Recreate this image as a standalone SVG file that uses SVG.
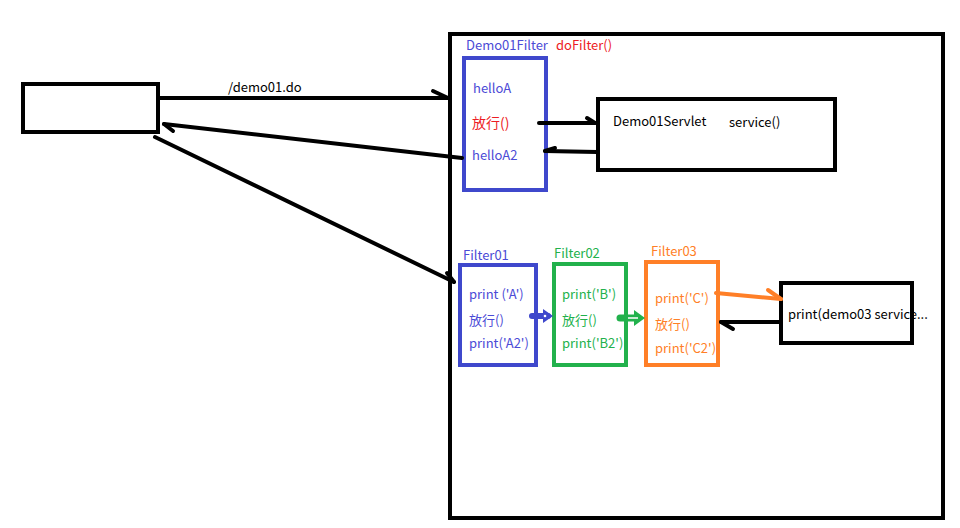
<svg xmlns="http://www.w3.org/2000/svg" width="960" height="528" viewBox="0 0 960 528">
<style>
text{font-family:"Noto Sans CJK SC","Liberation Sans",sans-serif;font-size:13px}
.box{fill:none;stroke-width:4}
.k{stroke:#000}
.bl{stroke:#3F48CC}
.gr{stroke:#22B14C}
.or{stroke:#FF7F27}
.line{fill:none;stroke-width:4;stroke-linecap:round;stroke-linejoin:round}
.tb{fill:#4B4BD6}
.tr{fill:#ED1C24}
.tk{fill:#000}
.tg{fill:#22B14C}
.to{fill:#FF7F27}
</style>
<rect width="960" height="528" fill="#fff"/>
<g id="client"><rect class="box k" x="23" y="84" width="135" height="48"/></g>
<g id="container"><rect class="box k" x="450" y="34" width="493" height="484"/></g>
<g id="demo01filter">
<rect class="box bl" x="464" y="58" width="82" height="132"/>
<text x="466" y="50" class="tb">Demo01Filter</text>
<text x="556" y="50" class="tr">doFilter()</text>
<text x="473" y="93" class="tb">helloA</text>
<text x="472" y="128" class="tr" style="font-size:14px">放行()</text>
<text x="472" y="160" class="tb">helloA2</text>
</g>
<g id="demo01servlet">
<rect class="box k" x="598" y="99" width="237" height="71"/>
<text x="613" y="126" class="tk">Demo01Servlet</text>
<text x="729" y="127" class="tk">service()</text>
</g>
<g id="filter01">
<rect class="box bl" x="460" y="265" width="76" height="100"/>
<text x="463" y="260" class="tb">Filter01</text>
<text x="469" y="299" class="tb">print ('A')</text>
<text x="469" y="325" class="tb">放行()</text>
<text x="469" y="348" class="tb">print('A2')</text>
</g>
<g id="filter02">
<rect class="box gr" x="554" y="264" width="72" height="101"/>
<text x="554" y="258" class="tg">Filter02</text>
<text x="562" y="299" class="tg">print('B')</text>
<text x="562" y="325" class="tg">放行()</text>
<text x="562" y="348" class="tg">print('B2')</text>
</g>
<g id="filter03">
<rect class="box or" x="646" y="262" width="72" height="103"/>
<text x="651" y="256" class="to">Filter03</text>
<text x="655" y="303" class="to">print('C')</text>
<text x="655" y="329" class="to">放行()</text>
<text x="655" y="353" class="to">print('C2')</text>
</g>
<g id="demo03servlet">
<rect class="box k" x="781" y="283" width="131" height="60"/>
<text x="788" y="319" class="tk">print(demo03 service...</text>
</g>
<g id="connectors">
<polyline class="line k" points="158,98 448,98"/>
<polyline class="line k" points="433,91 448,98"/>
<text x="228" y="92" class="tk">/demo01.do</text>
<polyline class="line k" points="462,158 164,124"/>
<polyline class="line k" points="164,124 173,131"/>
<polyline class="line k" points="155,137 454,282"/>
<polyline class="line k" points="447,273 454,282"/>
<polyline class="line k" points="539,123 595,123"/>
<polyline class="line k" points="587,118 595,123"/>
<polyline class="line k" points="597,152 545,151"/>
<polyline class="line k" points="545,151 555,148"/>
<polyline class="line k" points="780,322 721,322"/>
<polyline class="line k" points="721,322 733,329"/>
<polyline class="line or" points="716,293 781,299"/>
<polyline class="line or" points="768,290 781,299"/>
<polyline class="line bl" points="532,316 548,316" style="stroke-width:6"/>
<polygon points="543,309 553,316 543,323" fill="#3F48CC"/>
<circle cx="545" cy="316" r="1.3" fill="#fff"/>
<polyline class="line gr" points="620,318 638,318" style="stroke-width:7"/>
<polygon points="634,310 645,318 634,326" fill="#22B14C"/>
<line x1="628" y1="318" x2="638" y2="318" stroke="#fff" stroke-width="1.5"/>
</g>
</svg>
